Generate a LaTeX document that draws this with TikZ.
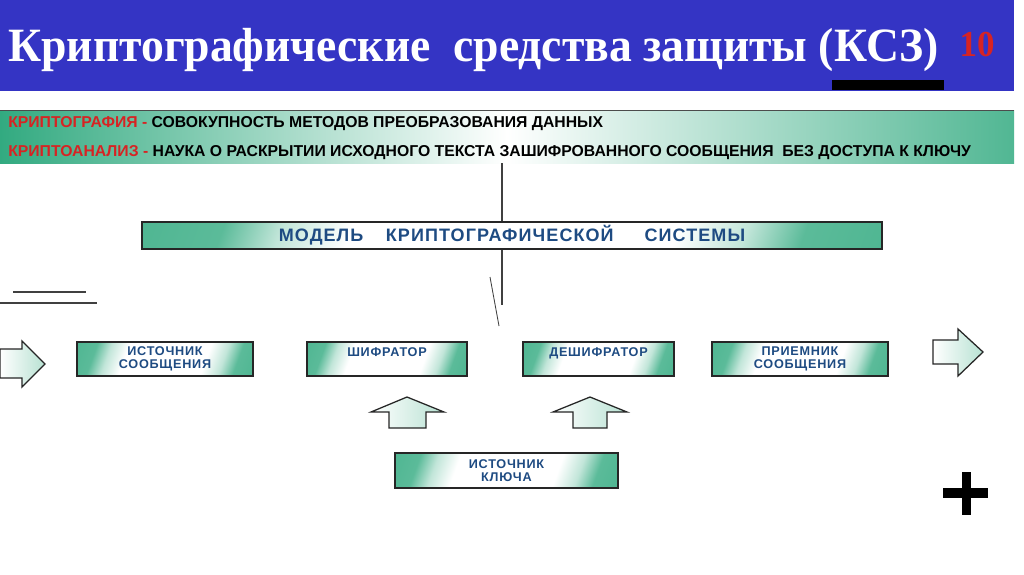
\documentclass[tikz,border=0pt]{standalone}
\usepackage{fontspec}
\setmainfont{Liberation Serif}
\newfontfamily\titlefont[FakeStretch=0.955]{Liberation Serif}
\newfontfamily\deffont{Liberation Sans}
\newfontfamily\boxfont[LetterSpace=6]{Liberation Sans}
\usetikzlibrary{positioning}
\definecolor{bandblue}{RGB}{52,52,196}
\definecolor{boxgreen}{RGB}{50,170,128}
\definecolor{boxtext}{RGB}{30,75,130}
\definecolor{defred}{RGB}{215,35,35}
\pgfdeclarehorizontalshading{boxshade}{100bp}{color(0bp)=(boxgreen); color(25bp)=(boxgreen!80); color(30bp)=(boxgreen!30); color(36bp)=(white); color(64bp)=(white); color(70bp)=(boxgreen!30); color(75bp)=(boxgreen!80); color(100bp)=(boxgreen)}

\begin{document}
\begin{tikzpicture}[x=0.025cm,y=-0.025cm,
  box/.style={draw=black!85,line width=1.1pt,shading=boxshade,shading angle=-20,
    inner sep=0pt,minimum height=0.85cm,align=center,text=boxtext,font=\boxfont\bfseries\fontsize{9}{9.5}\selectfont},
  deftext/.style={inner sep=0pt,anchor=base west,font=\deffont\bfseries\fontsize{11.2}{12}\selectfont},
  blockarrow/.style={draw=black!85,line width=0.9pt,left color=white,right color=boxgreen!35,line join=miter},
  thinline/.style={black!75,line width=0.8pt}]
\useasboundingbox (0,0) rectangle (1024,574);
\fill[white] (0,0) rectangle (1024,574);
\fill[bandblue] (0,0) rectangle (1014,91);
\node[inner sep=0pt,anchor=base west,text=white,font=\titlefont\bfseries\fontsize{34}{34}\selectfont] (title) at (8,61) {Криптографические\ \ средства защиты (КСЗ)};
\node[inner sep=0pt,text=defred,font=\titlefont\bfseries\fontsize{26}{26}\selectfont] (pagenum) at (977,45) {10};
\fill[black] (832,80) rectangle (944,90);

\node[draw=none,inner sep=0pt,minimum width=25.35cm,minimum height=1.3cm,left color=boxgreen,right color=boxgreen!85,middle color=white] (defs) at (507,137) {};
\draw[black!70,line width=1pt] (defs.north west) -- (defs.north east);
\node[deftext] (crypto) at (8,127) {\textcolor{defred}{КРИПТОГРАФИЯ -} СОВОКУПНОСТЬ МЕТОДОВ ПРЕОБРАЗОВАНИЯ ДАННЫХ};
\node[deftext] (analysis) at (8,156) {\textcolor{defred}{КРИПТОАНАЛИЗ -} НАУКА О РАСКРЫТИИ ИСХОДНОГО ТЕКСТА ЗАШИФРОВАННОГО СООБЩЕНИЯ\ \ БЕЗ ДОСТУПА К КЛЮЧУ};

\node[box,minimum width=18.5cm,minimum height=0.675cm,font=\boxfont\bfseries\fontsize{12.8}{13}\selectfont] (model) at (512,235.5) {МОДЕЛЬ\hspace{16pt}КРИПТОГРАФИЧЕСКОЙ\hspace{22pt}СИСТЕМЫ};
\coordinate (stem) at (502,0);
\draw[thinline] (defs.south -| stem) -- (model.north -| stem);
\draw[thinline] (model.south -| stem) -- ++(0,55);
\draw[thinline,line width=0.6pt] (490,277) -- (499,326);

\draw[thinline] (13,292) -- (86,292);
\draw[thinline] (0,303) -- (97,303);

\node[box,minimum width=4.4cm] (source) at (165,359) {ИСТОЧНИК\\СООБЩЕНИЯ};
\node[box,minimum width=4cm] (encoder) at (387,359) {ШИФРАТОР\\\mbox{}};
\node[box,minimum width=3.775cm] (decoder) at (598.5,359) {ДЕШИФРАТОР\\\mbox{}};
\node[box,minimum width=4.4cm] (receiver) at (800,359) {ПРИЕМНИК\\СООБЩЕНИЯ};
\node[box,minimum width=5.575cm,minimum height=0.875cm] (keysource) at (506.5,470.5) {ИСТОЧНИК\\КЛЮЧА};

\draw[blockarrow] (0,349) -- (22,349) -- (22,341) -- (45,364) -- (22,387) -- (22,378) -- (0,378) -- cycle;
\draw[blockarrow] (933,340) -- (958,340) -- (958,329) -- (983,352) -- (958,376) -- (958,364) -- (933,364) -- cycle;
\draw[blockarrow] (389,428) -- (389,412) -- (371,412) -- (407,397) -- (444,412) -- (426,412) -- (426,428) -- cycle;
\draw[blockarrow] (573,428) -- (573,412) -- (553,412) -- (590,397) -- (627,412) -- (607,412) -- (607,428) -- cycle;

\fill[black] (962,472) rectangle (971,515);
\fill[black] (943,488) rectangle (988,498);
\end{tikzpicture}
\end{document}
